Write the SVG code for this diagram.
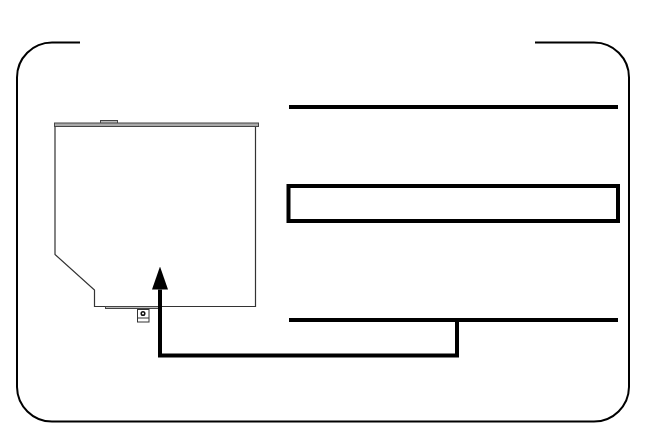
<svg xmlns="http://www.w3.org/2000/svg" width="646" height="425" viewBox="0 0 646 425">
<defs><style>
.frame{fill:none;stroke:#000;stroke-width:2}
.heavy{fill:none;stroke:#000;stroke-width:4}
.thin{fill:#fff;stroke:#333;stroke-width:1.2}
.grey{fill:#bbb;stroke:#444;stroke-width:1}
</style>
<marker id="head" markerUnits="userSpaceOnUse" markerWidth="23" markerHeight="16" refX="0" refY="8" orient="auto" viewBox="0 0 23 16"><path d="M0 0L23 8L0 16Z" fill="#000"/></marker>
</defs>
<rect width="646" height="425" fill="#fff"/>
<g id="frame"><path class="frame" d="M80 42.500H52A35 35 0 0 0 17 77.500V387A35 35 0 0 0 52 421.500H594A35 35 0 0 0 629 387V77.500A35 35 0 0 0 594 42.500H535"/></g>
<g id="drive">
<path class="thin" d="M55 126V254.500L94.500 290V306.500H255.500V126Z"/>
<rect class="grey" x="100.500" y="120.500" width="17" height="3"/>
<rect x="54.500" y="123" width="204" height="3.500" fill="#aaa" stroke="#444" stroke-width="1"/>
<rect class="grey" x="105.500" y="306.500" width="53" height="2"/>
<rect x="137.500" y="309.500" width="11.500" height="12.500" fill="#fff" stroke="#333" stroke-width="1"/>
<path d="M137.500 318H149" stroke="#333" stroke-width="1"/>
<circle cx="143" cy="313.500" r="1.800" fill="#fff" stroke="#111" stroke-width="1.500"/>
</g>
<g id="line-top"><path class="heavy" d="M289 107H618"/></g>
<g id="box"><rect class="heavy" x="288.500" y="186" width="329.500" height="35"/></g>
<g id="line-bottom"><path class="heavy" d="M289 320H618"/></g>
<g id="connectors"><path class="heavy" d="M457 320V355.500H160V289.500" marker-end="url(#head)"/></g>
</svg>
